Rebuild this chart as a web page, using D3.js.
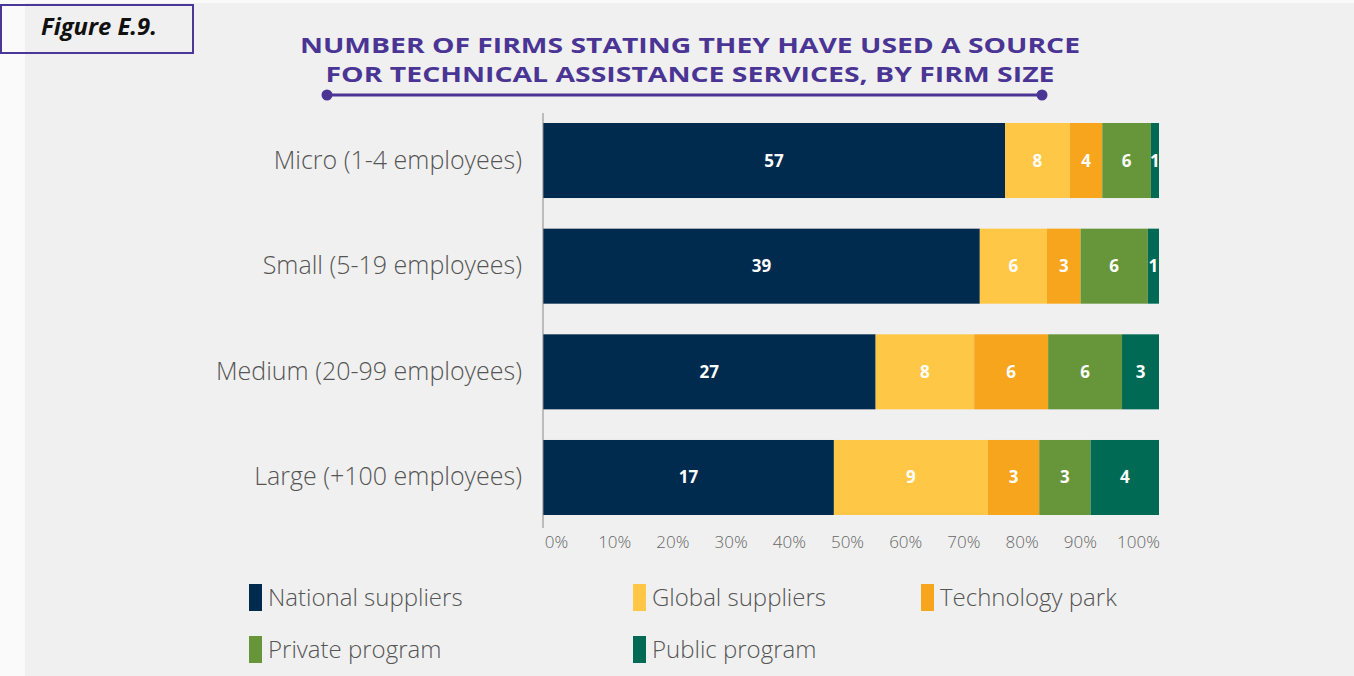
<!DOCTYPE html>
<html>
<head>
<meta charset="utf-8">
<script src="https://cdn.jsdelivr.net/npm/d3@7"></script>
<style>
  body { margin: 0; background: #fafafa; }
  svg text { font-family: "Open Sans", "DejaVu Sans", sans-serif; }
</style>
</head>
<body>
<div id="chart"></div>
<script>
const categories = ['Micro (1-4 employees)', 'Small (5-19 employees)', 'Medium (20-99 employees)', 'Large (+100 employees)'];
const seriesNames = ['National suppliers', 'Global suppliers', 'Technology park', 'Private program', 'Public program'];
const national = [57, 39, 27, 17];
const global = [8, 6, 8, 9];
const techPark = [4, 3, 6, 3];
const privateProg = [6, 6, 6, 3];
const publicProg = [1, 1, 3, 4];
const tickLabels = ['0%', '10%', '20%', '30%', '40%', '50%', '60%', '70%', '80%', '90%', '100%'];
const colors = ['#002a4e', '#ffc745', '#f7a51d', '#67963a', '#006a55'];

const W = 1354, H = 676;
const svg = d3.select('#chart').append('svg').attr('width', W).attr('height', H);

// background panel
svg.append('rect').attr('x', 25).attr('y', 3).attr('width', W - 25).attr('height', H - 3).attr('fill', '#f0f0f0');

// figure label box
svg.append('rect').attr('x', 1).attr('y', 5).attr('width', 192).attr('height', 48)
  .attr('fill', 'none').attr('stroke', '#4b3797').attr('stroke-width', 2);
svg.append('text').attr('x', 41).attr('y', 35)
  .attr('font-size', 23).attr('font-weight', 700).attr('font-style', 'italic').attr('fill', '#111')
  .attr('textLength', 116).attr('lengthAdjust', 'spacingAndGlyphs')
  .text('Figure E.9.');

// title
const titleColor = '#4a3595';
const title = svg.append('g').attr('fill', titleColor).attr('font-weight', 700).attr('font-size', 21)
  .attr('text-anchor', 'middle');
title.append('text').attr('x', 690).attr('y', 53)
  .attr('textLength', 780).attr('lengthAdjust', 'spacingAndGlyphs')
  .text('NUMBER OF FIRMS STATING THEY HAVE USED A SOURCE');
title.append('text').attr('x', 690).attr('y', 82)
  .attr('textLength', 729).attr('lengthAdjust', 'spacingAndGlyphs')
  .text('FOR TECHNICAL ASSISTANCE SERVICES, BY FIRM SIZE');
svg.append('line').attr('x1', 327).attr('x2', 1042).attr('y1', 95).attr('y2', 95)
  .attr('stroke', titleColor).attr('stroke-width', 3);
[327, 1042].forEach(function(cx) {
  svg.append('circle').attr('cx', cx).attr('cy', 95).attr('r', 5.5).attr('fill', titleColor);
});

// data
const series = [national, global, techPark, privateProg, publicProg];
const rows = categories.map(function(c, i) {
  const row = { name: c };
  seriesNames.forEach(function(s, j) { row[s] = series[j][i]; });
  return row;
});
const stack = d3.stack().keys(seriesNames).offset(d3.stackOffsetExpand);
const stacked = stack(rows);

const x = d3.scaleLinear().domain([0, 1]).range([543, 1159]);
const y = d3.scaleBand().domain(categories).range([123, 515]).paddingInner(0.29).paddingOuter(0);

// bars
const layers = svg.selectAll('.layer').data(stacked).enter().append('g')
  .attr('fill', function(d, i) { return colors[i]; });
layers.selectAll('rect').data(function(d) { return d; }).enter().append('rect')
  .attr('x', function(d) { return x(d[0]); })
  .attr('y', function(d) { return y(d.data.name); })
  .attr('width', function(d) { return x(d[1]) - x(d[0]); })
  .attr('height', y.bandwidth());
layers.selectAll('text').data(function(d) { return d.map(function(p) { return { p: p, key: d.key }; }); })
  .enter().append('text')
  .attr('x', function(d) { return (x(d.p[0]) + x(d.p[1])) / 2; })
  .attr('y', function(d) { return y(d.p.data.name) + y.bandwidth() / 2 + 6; })
  .attr('text-anchor', 'middle').attr('fill', '#fff').attr('font-weight', 700).attr('font-size', 17)
  .text(function(d) { return d.p.data[d.key]; });

// y axis line + category labels
svg.append('line').attr('x1', 543).attr('x2', 543).attr('y1', 113).attr('y2', 528)
  .attr('stroke', '#888').attr('stroke-width', 1);
svg.selectAll('.cat').data(categories).enter().append('text')
  .attr('x', 522).attr('y', function(d) { return y(d) + y.bandwidth() / 2 + 8; })
  .attr('text-anchor', 'end').attr('font-size', 25).attr('fill', '#555').attr('font-weight', 300)
  .text(function(d) { return d; });

// x tick labels (labels are placed inset from bar ends in the original)
const xTick = d3.scaleLinear().domain([0, 1]).range([556, 1138]);
const xAxis = svg.append('g').attr('transform', 'translate(0,533)')
  .call(d3.axisBottom(xTick).tickValues(d3.range(0, 1.01, 0.1)).tickSize(0)
    .tickFormat(function(d, i) { return tickLabels[i]; }));
xAxis.select('.domain').remove();
xAxis.selectAll('text').attr('font-size', 17).attr('fill', '#666').attr('font-weight', 300)
  .attr('font-family', '"Open Sans", sans-serif');

// legend
const legendPos = [[249, 584], [633, 584], [921, 584], [249, 636], [633, 636]];
const legend = svg.selectAll('.legend').data(seriesNames).enter().append('g')
  .attr('transform', function(d, i) { return 'translate(' + legendPos[i][0] + ',' + legendPos[i][1] + ')'; });
legend.append('rect').attr('width', 13).attr('height', 27).attr('fill', function(d, i) { return colors[i]; });
legend.append('text').attr('x', 19).attr('y', 22).attr('font-size', 24).attr('fill', '#555').attr('font-weight', 300)
  .text(function(d) { return d; });
</script>
</body>
</html>
